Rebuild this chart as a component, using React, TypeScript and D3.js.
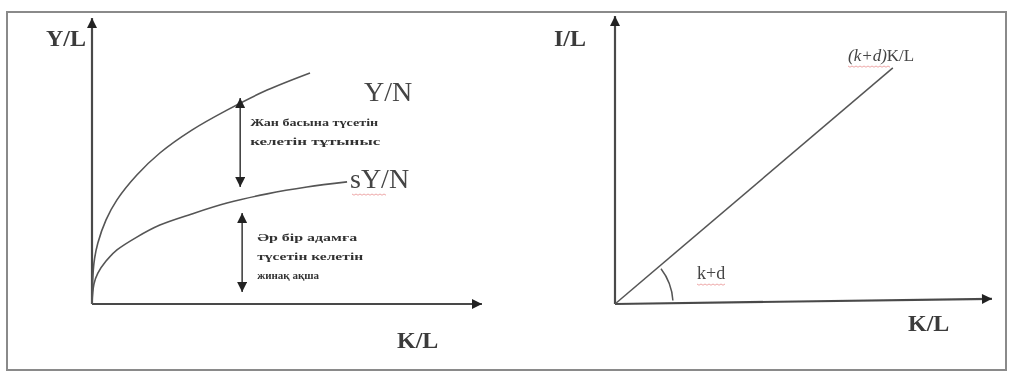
import React, { useRef, useEffect } from "react";
import * as d3 from "d3";

// left panel: output per worker (Y/N) and savings per worker (sY/N) against K/L
const klOutput = [0, 0.5, 1.5, 3.6, 6.4, 11.5, 17.4, 25.6, 34.6, 44.9, 55.9];
const outputPerWorker = [0, 14.3, 21.3, 29.4, 36.4, 45.1, 52.8, 60.8, 67.8, 74.8, 80.8];
const klSaving = [0, 0.5, 1.5, 3.6, 6.4, 11.5, 17.4, 25.6, 34.6, 44.9, 55.1, 65.4];
const savingPerWorker = [0, 7.0, 10.8, 15.0, 18.9, 23.4, 27.6, 31.5, 35.3, 38.5, 40.9, 42.7];

// gap markers (double arrows): K/L position, lower and upper value
const gapKL = [38, 38.5];
const gapLow = [40.9, 4.2];
const gapHigh = [72, 31.8];
const gapNotes = [
  ["Жан басына түсетін", "келетін тұтыныс"],
  ["Әр бір адамға", "түсетін келетін", "жинақ ақша"],
];

// right panel: required investment (k+d)K/L
const klInvest = [0, 73.7];
const investPerWorker = [0, 82];
const klAxisRight = [0, 100];
const axisDriftRight = [0, 1.8];

const leftLabels = { y: "Y/L", x: "K/L", upper: "Y/N", lower: "sY/N" };
const rightLabels = { y: "I/L", x: "K/L", line: "(k+d)K/L", angle: "k+d" };

const App = () => {
  const svgRef = useRef<SVGSVGElement>(null);

  useEffect(() => {
    const svg = d3.select(svgRef.current);
    svg.selectAll("*").remove();
    const width = 1010;
    const height = 375;
    svg.attr("width", width).attr("height", height);

    const ink = "#4a4a4a";
    const serif = "'Liberation Serif', 'Times New Roman', serif";

    const defs = svg.append("defs");
    defs
      .append("filter")
      .attr("id", "soft")
      .append("feGaussianBlur")
      .attr("stdDeviation", 0.45);

    const mk = (id: string, w: number, h: number) =>
      defs
        .append("marker")
        .attr("id", id)
        .attr("viewBox", "0 0 10 10")
        .attr("refX", 10)
        .attr("refY", 5)
        .attr("markerUnits", "userSpaceOnUse")
        .attr("markerWidth", w)
        .attr("markerHeight", h)
        .attr("orient", "auto-start-reverse")
        .append("path")
        .attr("d", "M0,0 L10,5 L0,10 Z")
        .attr("fill", "#222");
    mk("axisArrow", 13, 10);
    mk("gapArrow", 11, 10);

    const g = svg.append("g").attr("filter", "url(#soft)");

    // outer frame
    g.append("rect")
      .attr("x", 7)
      .attr("y", 12)
      .attr("width", 999)
      .attr("height", 358)
      .attr("fill", "none")
      .attr("stroke", "#8a8a8a")
      .attr("stroke-width", 2);

    // ---------- left panel ----------
    const x = d3.scaleLinear().domain([0, 100]).range([92, 482]);
    const y = d3.scaleLinear().domain([0, 100]).range([304, 18]);

    g.append("line")
      .attr("x1", x(0)).attr("y1", y(0))
      .attr("x2", x(0)).attr("y2", y(100))
      .attr("stroke", ink).attr("stroke-width", 2.2)
      .attr("marker-end", "url(#axisArrow)");
    g.append("line")
      .attr("x1", x(0)).attr("y1", y(0))
      .attr("x2", x(100)).attr("y2", y(0))
      .attr("stroke", ink).attr("stroke-width", 2.2)
      .attr("marker-end", "url(#axisArrow)");

    const lineL = d3
      .line<[number, number]>()
      .x((d) => x(d[0]))
      .y((d) => y(d[1]))
      .curve(d3.curveCatmullRom.alpha(0.5));

    g.append("path")
      .datum(klOutput.map((k, i) => [k, outputPerWorker[i]] as [number, number]))
      .attr("d", lineL)
      .attr("fill", "none")
      .attr("stroke", "#555")
      .attr("stroke-width", 1.6);
    g.append("path")
      .datum(klSaving.map((k, i) => [k, savingPerWorker[i]] as [number, number]))
      .attr("d", lineL)
      .attr("fill", "none")
      .attr("stroke", "#555")
      .attr("stroke-width", 1.6);

    // double arrows + notes
    gapKL.forEach((k, i) => {
      g.append("line")
        .attr("x1", x(k)).attr("y1", y(gapLow[i]))
        .attr("x2", x(k)).attr("y2", y(gapHigh[i]))
        .attr("stroke", "#444").attr("stroke-width", 1.6)
        .attr("marker-start", "url(#gapArrow)")
        .attr("marker-end", "url(#gapArrow)");
    });
    const noteTop = [122, 237];
    const noteStep = [19, 19];
    const noteLen = [[128, 130], [100, 106, 62]];
    gapNotes.forEach((lines, i) => {
      lines.forEach((t, j) => {
        g.append("text")
          .attr("x", x(gapKL[i]) + 10 + (i === 1 ? 5 : 0))
          .attr("y", noteTop[i] + j * noteStep[i] + 4)
          .attr("font-family", serif)
          .attr("font-size", 10.5)
          .attr("font-weight", "bold")
          .attr("fill", "#333")
          .attr("textLength", noteLen[i][j])
          .attr("lengthAdjust", "spacingAndGlyphs")
          .text(t);
      });
    });

    g.append("text")
      .attr("x", 86).attr("y", 46)
      .attr("text-anchor", "end")
      .attr("font-family", serif).attr("font-size", 24).attr("font-weight", "bold")
      .attr("fill", "#3a3a3a")
      .text(leftLabels.y);
    g.append("text")
      .attr("x", 397).attr("y", 348)
      .attr("font-family", serif).attr("font-size", 24).attr("font-weight", "bold")
      .attr("fill", "#3a3a3a")
      .text(leftLabels.x);
    g.append("text")
      .attr("x", 364).attr("y", 101)
      .attr("font-family", serif).attr("font-size", 28)
      .attr("fill", "#444")
      .text(leftLabels.upper);
    g.append("text")
      .attr("x", 350).attr("y", 188)
      .attr("font-family", serif).attr("font-size", 28)
      .attr("fill", "#444")
      .text(leftLabels.lower);

    // ---------- right panel ----------
    const xr = d3.scaleLinear().domain([0, 100]).range([615, 992]);
    const yr = d3.scaleLinear().domain([0, 100]).range([304, 16]);

    g.append("line")
      .attr("x1", xr(0)).attr("y1", yr(0))
      .attr("x2", xr(0)).attr("y2", yr(100))
      .attr("stroke", ink).attr("stroke-width", 2.2)
      .attr("marker-end", "url(#axisArrow)");
    g.append("line")
      .attr("x1", xr(klAxisRight[0])).attr("y1", yr(axisDriftRight[0]))
      .attr("x2", xr(klAxisRight[1])).attr("y2", yr(axisDriftRight[1]))
      .attr("stroke", ink).attr("stroke-width", 2.2)
      .attr("marker-end", "url(#axisArrow)");

    const lineR = d3
      .line<[number, number]>()
      .x((d) => xr(d[0]))
      .y((d) => yr(d[1]));
    g.append("path")
      .datum(klInvest.map((k, i) => [k, investPerWorker[i]] as [number, number]))
      .attr("d", lineR)
      .attr("fill", "none")
      .attr("stroke", "#555")
      .attr("stroke-width", 1.5);

    // angle arc at origin
    const ang = Math.atan2(
      yr(0) - yr(investPerWorker[1]),
      xr(klInvest[1]) - xr(0)
    );
    const p = d3.path();
    p.arc(xr(0), yr(0), 58, -ang + 0.05, -0.06);
    g.append("path")
      .attr("d", p.toString())
      .attr("fill", "none")
      .attr("stroke", "#555")
      .attr("stroke-width", 1.5);

    g.append("text")
      .attr("x", 586).attr("y", 46)
      .attr("text-anchor", "end")
      .attr("font-family", serif).attr("font-size", 24).attr("font-weight", "bold")
      .attr("fill", "#3a3a3a")
      .text(rightLabels.y);
    g.append("text")
      .attr("x", 908).attr("y", 331)
      .attr("font-family", serif).attr("font-size", 24).attr("font-weight", "bold")
      .attr("fill", "#3a3a3a")
      .text(rightLabels.x);
    const lt = g
      .append("text")
      .attr("x", 848).attr("y", 61)
      .attr("font-family", serif).attr("font-size", 17)
      .attr("fill", "#444");
    lt.append("tspan").attr("font-style", "italic").text("(k+d)");
    lt.append("tspan").text("K/L");
    g.append("text")
      .attr("x", 697).attr("y", 279)
      .attr("font-family", serif).attr("font-size", 18)
      .attr("fill", "#444")
      .text(rightLabels.angle);

    // spell-check squiggles from the source document
    const squiggle = (x0: number, x1: number, yy: number) => {
      const pts: [number, number][] = [];
      for (let xx = x0, k = 0; xx <= x1; xx += 2, k++) pts.push([xx, yy + (k % 2 ? 1.2 : 0)]);
      g.append("path")
        .attr("d", d3.line()(pts))
        .attr("fill", "none")
        .attr("stroke", "#e06060")
        .attr("stroke-opacity", 0.55)
        .attr("stroke-width", 1);
    };
    squiggle(352, 386, 194);
    squiggle(848, 890, 66);
    squiggle(697, 726, 284);
  }, []);

  return (
    <svg
      ref={svgRef}
      style={{ position: "absolute", left: 0, top: 0, background: "#fff" }}
    ></svg>
  );
};

export default App;
